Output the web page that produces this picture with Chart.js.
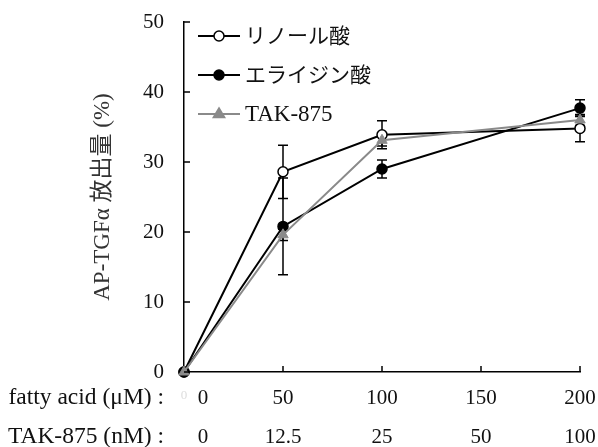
<!DOCTYPE html>
<html><head><meta charset="utf-8">
<script src="https://cdn.jsdelivr.net/npm/chart.js@4.4.1/dist/chart.umd.min.js"></script>
<style>html,body{margin:0;padding:0;background:#fff}#wrap{width:598px;height:447px}</style>
</head><body><div id="wrap"><canvas id="c" width="598" height="447"></canvas></div>
<script>
const xValues = [0, 50, 100, 200];
const linoleic = [0, 28.6, 33.9, 34.8];
const linoleicErr = [0, 3.8, 2.0, 1.9];
const elaidic = [0, 20.8, 29.0, 37.7];
const elaidicErr = [0, 6.9, 1.3, 1.2];
const tak875 = [0, 19.6, 33.1, 36.0];
const tak875Err = [0, 0.8, 0.8, 0.8];
const seriesNames = ['リノール酸', 'エライジン酸', 'TAK-875'];
const xTickValues = [0, 50, 100, 150, 200];
const fattyAcidLabels = ['0', '50', '100', '150', '200'];
const takLabels = ['0', '12.5', '25', '50', '100'];
const rowTitles = ['fatty acid (μM) :', 'TAK-875 (nM) :'];
const yTitle = 'AP-TGFα 放出量 (%)';

const SERIF = '"Liberation Serif", "DejaVu Serif", serif';
const NUM_FONT = '21px ' + SERIF;
const ROW_FONT = '23.5px ' + SERIF;
const JP_FONT = '21px "Liberation Serif", "Noto Sans CJK JP", serif';
const LAT_FONT = '23px ' + SERIF;
const GRAY = '#8a8a8a';

function pts(vals){ return xValues.map((x,i)=>({x:x,y:vals[i]})); }

const errs = [linoleicErr, elaidicErr, tak875Err];

const errorBars = {
  id:'errorBars',
  beforeDatasetsDraw(chart){
    const ctx = chart.ctx, xs = chart.scales.x, ys = chart.scales.y;
    chart.data.datasets.forEach((ds,di)=>{
      ctx.save();
      ctx.strokeStyle = ds.errColor; ctx.lineWidth = 1.5;
      ds.data.forEach((p,i)=>{
        const e = errs[di][i]; if(!e) return;
        const px = xs.getPixelForValue(p.x);
        const t = ys.getPixelForValue(p.y+e), b = ys.getPixelForValue(p.y-e);
        ctx.beginPath();
        ctx.moveTo(px,t); ctx.lineTo(px,b);
        ctx.moveTo(px-5,t); ctx.lineTo(px+5,t);
        ctx.moveTo(px-5,b); ctx.lineTo(px+5,b);
        ctx.stroke();
      });
      ctx.restore();
    });
  }
};

const decor = {
  id:'decor',
  afterDraw(chart){
    const ctx = chart.ctx, xs = chart.scales.x, ys = chart.scales.y, ca = chart.chartArea;
    ctx.save();
    ctx.strokeStyle = '#000'; ctx.lineWidth = 1.5;
    for(let v=0; v<=50; v+=10){
      const py = ys.getPixelForValue(v);
      ctx.beginPath(); ctx.moveTo(ca.left,py); ctx.lineTo(ca.left+6,py); ctx.stroke();
    }
    xTickValues.forEach(v=>{
      if(v===0) return;
      const px = xs.getPixelForValue(v);
      ctx.beginPath(); ctx.moveTo(px,ca.bottom); ctx.lineTo(px,ca.bottom-6); ctx.stroke();
    });
    ctx.fillStyle = '#111'; ctx.textBaseline = 'middle';
    const row1 = ca.bottom + 26, row2 = ca.bottom + 65;
    ctx.font = NUM_FONT;
    xTickValues.forEach((v,i)=>{
      let px = xs.getPixelForValue(v);
      if(v===0) px += 19;
      ctx.textAlign = 'center';
      ctx.fillText(fattyAcidLabels[i], px, row1);
      ctx.fillText(takLabels[i], px, row2);
    });
    ctx.save(); ctx.fillStyle = '#dddddd'; ctx.font = '13px ' + SERIF; ctx.textAlign='center';
    ctx.fillText('0', xs.getPixelForValue(0), row1-2); ctx.restore();
    ctx.font = ROW_FONT; ctx.textAlign = 'right';
    ctx.fillText(rowTitles[0], ca.left-20, row1);
    ctx.fillText(rowTitles[1], ca.left-20, row2);
    const lx0 = ca.left + 14, lx1 = ca.left + 56, tx = ca.left + 61;
    const rows = [ca.top + 14, ca.top + 53, ca.top + 92];
    chart.data.datasets.forEach((ds,i)=>{
      const y = rows[i];
      ctx.strokeStyle = ds.borderColor; ctx.lineWidth = 2;
      ctx.beginPath(); ctx.moveTo(lx0,y); ctx.lineTo(lx1,y); ctx.stroke();
      const mx = (lx0+lx1)/2;
      ctx.lineWidth = 1.5;
      ctx.fillStyle = ds.pointBackgroundColor; ctx.strokeStyle = ds.pointBorderColor;
      ctx.beginPath();
      if(ds.pointStyle==='triangle'){
        const r = 6;
        ctx.moveTo(mx, y-r); ctx.lineTo(mx+r*0.95, y+r*0.6); ctx.lineTo(mx-r*0.95, y+r*0.6); ctx.closePath();
      } else {
        ctx.arc(mx,y,5,0,Math.PI*2);
      }
      ctx.fill(); ctx.stroke();
      ctx.fillStyle = '#111'; ctx.font = (i===2 ? LAT_FONT : JP_FONT); ctx.textAlign = 'left'; ctx.textBaseline='middle';
      ctx.fillText(ds.label, tx, y+1);
    });
    ctx.restore();
  }
};

new Chart(document.getElementById('c'), {
  type:'line',
  data:{
    datasets:[
      {label:seriesNames[0], data:pts(linoleic), borderColor:'#000', borderWidth:2, pointStyle:'circle', pointRadius:5, pointBackgroundColor:'#fff', pointBorderColor:'#000', pointBorderWidth:1.5, errColor:'#000', order:3, clip:false, tension:0},
      {label:seriesNames[1], data:pts(elaidic), borderColor:'#000', borderWidth:2, pointStyle:'circle', pointRadius:5, pointBackgroundColor:'#000', pointBorderColor:'#000', pointBorderWidth:1.5, errColor:'#000', order:2, clip:false, tension:0},
      {label:seriesNames[2], data:pts(tak875), borderColor:GRAY, borderWidth:2, pointStyle:'triangle', pointRadius:6, pointBackgroundColor:GRAY, pointBorderColor:GRAY, pointBorderWidth:1, errColor:'#000', order:1, clip:false, tension:0}
    ]
  },
  options:{
    responsive:false, animation:false, devicePixelRatio:1,
    layout:{padding:{top:22, right:18, bottom:0, left:0}},
    plugins:{legend:{display:false}, tooltip:{enabled:false}},
    scales:{
      x:{type:'linear', min:0, max:200,
        grid:{display:false, drawTicks:false},
        border:{display:true, color:'#000', width:1.5},
        ticks:{display:false},
        afterFit(s){ s.height = 75; }
      },
      y:{type:'linear', min:0, max:50,
        grid:{display:false, drawTicks:false},
        border:{display:true, color:'#000', width:1.5},
        ticks:{stepSize:10, padding:20, color:'#111', font:{family:SERIF, size:21}},
        title:{display:true, text:yTitle, color:'#333', font:{family:'"Liberation Serif", "Noto Sans CJK JP", serif', size:23}, padding:{top:89, bottom:0}},
        afterFit(s){ s.width = 184; s.paddingTop = 0; s.paddingBottom = 0; }
      }
    }
  },
  plugins:[errorBars, decor]
});
</script></body></html>
